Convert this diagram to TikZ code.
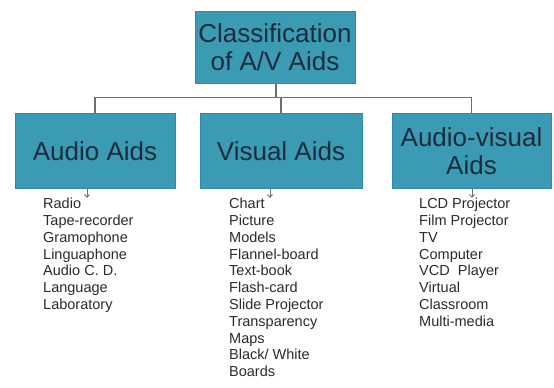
\documentclass[tikz,border=0pt]{standalone}
\usepackage{fontspec}
\setmainfont{Liberation Sans}
\usetikzlibrary{arrows.meta}
\definecolor{boxfill}{HTML}{3A9BB3}
\definecolor{boxedge}{HTML}{2E8AA2}
\definecolor{titletext}{HTML}{1C2B3E}
\definecolor{listtext}{HTML}{2A2A2A}
\definecolor{linegray}{HTML}{6E6E6E}
\tikzset{
  catbox/.style={draw=boxedge, fill=boxfill, line width=0.8pt, inner sep=0pt,
    font=\fontsize{26}{28}\selectfont, text=titletext, align=center},
  itemlist/.style={anchor=north west, inner sep=0pt, align=left,
    font=\fontsize{14.5}{16.8}\selectfont, text=listtext},
  conn/.style={draw=linegray, line width=1.1pt},
  smallarrow/.style={draw=linegray, line width=0.9pt, -{Straight Barb[length=3pt,width=5pt]}}
}
\begin{document}
\begin{tikzpicture}[x=1pt,y=-1pt]
\useasboundingbox (0,0) rectangle (554,388);
\node[catbox, minimum width=160pt, minimum height=72pt] (top) at (275,47.5) {Classification\\of A/V Aids};
\node[catbox, minimum width=160pt, minimum height=75pt] (audio) at (95,151) {Audio Aids};
\node[catbox, minimum width=162pt, minimum height=75pt] (visual) at (281,151) {Visual Aids};
\node[catbox, minimum width=159pt, minimum height=75pt] (av) at (471.5,151) {Audio-visual\\Aids};
\coordinate (bus) at (276,97.5);
\draw[conn] (top.south -| bus) -- (bus);
\draw[conn] (audio.north) |- (bus) -| (av.north);
\draw[conn] (visual.north) -- (visual.north |- bus);
\node[itemlist] (alist) at (43,198) {Radio\\Tape-recorder\\Gramophone\\Linguaphone\\Audio C. D.\\Language\\Laboratory};
\node[itemlist] (vlist) at (229,198) {Chart\\Picture\\Models\\Flannel-board\\Text-book\\Flash-card\\Slide Projector\\Transparency\\Maps\\Black/ White\\Boards};
\node[itemlist] (avlist) at (419,198) {LCD Projector\\Film Projector\\TV\\Computer\\VCD~ Player\\Virtual\\Classroom\\Multi-media};
\coordinate (a1) at (87,188.5);
\coordinate (v1) at (270,188.5);
\coordinate (w1) at (472,188.5);
\draw[smallarrow] (a1) -- (a1 |- alist.north);
\draw[smallarrow] (v1) -- (v1 |- vlist.north);
\draw[smallarrow] (w1) -- (w1 |- avlist.north);
\end{tikzpicture}
\end{document}
